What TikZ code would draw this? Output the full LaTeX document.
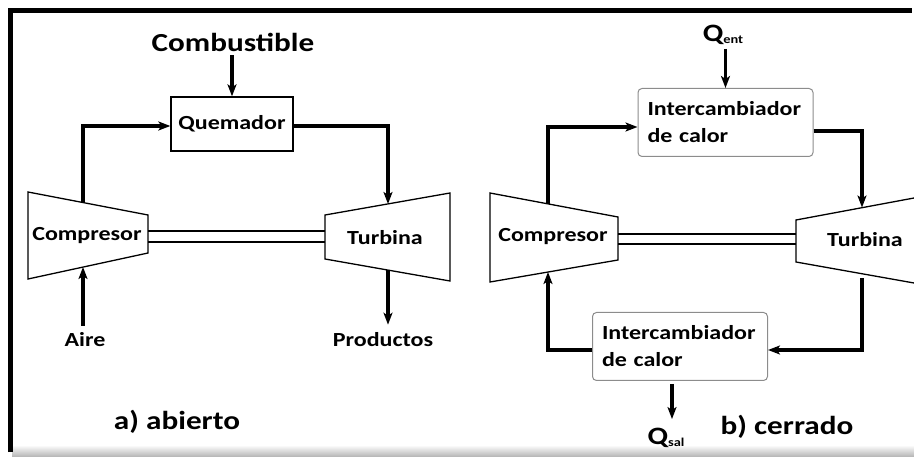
\documentclass[tikz,border=0pt]{standalone}
\usepackage{fontspec}
\setmainfont{Carlito}[FakeStretch=1.2]
\usepackage{tikz}
\usetikzlibrary{arrows.meta,calc}
\tikzset{
  lbl/.style={font=\bfseries\fontsize{20}{24}\selectfont,inner sep=0pt},
  biglbl/.style={font=\bfseries\fontsize{26}{30}\selectfont,inner sep=0pt},
  qlbl/.style={font=\bfseries,inner sep=0pt},
  boxnode/.style={rectangle,draw=black,line width=1.3pt,minimum width=122pt,
                  minimum height=54pt,inner sep=0pt,
                  font=\bfseries\fontsize{20}{24}\selectfont},
  hxnode/.style={rectangle,rounded corners=4pt,draw=black!45,line width=1pt,
                 minimum width=175pt,minimum height=68pt,inner sep=0pt,
                 align=left,text width=156pt,
                 font=\bfseries\fontsize{20}{27}\selectfont},
  unitline/.style={line width=1.3pt,line join=miter},
  flowarr/.style={-{Stealth[length=12pt,width=9pt,inset=3pt]},line width=3.5pt},
}
\newcommand{\heatlbl}[1]{{\fontsize{25}{28}\selectfont Q}\raisebox{-2pt}{\fontsize{12}{14}\selectfont #1}}

\begin{document}
\begin{tikzpicture}[x=1pt,y=-1pt]
  \useasboundingbox (0,0) rectangle (914,457);

  % frame
  \shade[top color=white,bottom color=black!30] (12,445) rectangle (914,457);
  \draw[line width=5pt] (10.5,452) |- (912,10.5);

  % a) open cycle
  \draw[unitline] (28,192) -- (148,215) -- (148,253) -- (28,279) -- cycle;
  \draw[unitline] (325,215) -- (450,193) -- (450,281) -- (325,259) -- cycle;
  \draw[unitline] (148,231) -- (325,231) (148,242) -- (325,242);
  \node[lbl] (compA) at (87,236) {Compresor};
  \node[lbl] (turbA) at (385,238) {Turbina};
  \node[boxnode] (quem) at (232,124) {Quemador};
  \node[biglbl] (fuel) at (233,42) {Combustible};
  \node[lbl] (air) at (85,340) {Aire};
  \node[lbl] (prod) at (383,340) {Productos};
  \node[biglbl] (capA) at (177,422) {a) abierto};

  \coordinate (cA-top) at (83,202.5);
  \coordinate (cA-bot) at (83,267);
  \coordinate (tA-top) at (388,204);
  \coordinate (tA-bot) at (388,270);

  \draw[flowarr,shorten <=4pt] (fuel.south -| quem.north) -- (quem.north);
  \draw[flowarr] (cA-top) |- ([yshift=-2pt]quem.west);
  \draw[flowarr] ([yshift=-2pt]quem.east) -| (tA-top);
  \draw[flowarr,shorten <=7pt] (air.north -| cA-bot) -- (cA-bot);
  \draw[flowarr,shorten >=8pt] (tA-bot) -- (tA-bot |- prod.north);

  % b) closed cycle
  \draw[unitline] (490,193) -- (618,217) -- (618,260) -- (490,282) -- cycle;
  \draw[unitline] (914,198) -- (796,220) -- (796,262) -- (914,283);
  \draw[unitline] (618,234) -- (796,234) (618,244) -- (796,244);
  \node[lbl] (compB) at (553,237) {Compresor};
  \node[lbl] (turbB) at (865,240) {Turbina};
  \node[hxnode] (hxin) at (725.5,122.5) {Intercambiador\\de calor};
  \node[hxnode] (hxout) at (680,346.5) {Intercambiador\\de calor};
  \node[qlbl] (qent) at (723,35) {\heatlbl{ent}};
  \node[qlbl] (qsal) at (666,438) {\heatlbl{sal}};
  \node[biglbl] (capB) at (787,427) {b) cerrado};

  \coordinate (cB-top) at (548,204);
  \coordinate (cB-bot) at (548,272);
  \coordinate (tB-top) at (862,207.5);
  \coordinate (tB-bot) at (862,278);
  \coordinate (qsal-x) at (672,0);

  \draw[flowarr,shorten <=4pt] (qent.south -| hxin.north) -- (hxin.north);
  \draw[flowarr] (cB-top) |- ([yshift=-4.5pt]hxin.west);
  \draw[flowarr] ([yshift=-8.5pt]hxin.east) -| (tB-top);
  \draw[flowarr] (tB-bot) |- ([yshift=-3.5pt]hxout.east);
  \draw[flowarr] ([yshift=-3.5pt]hxout.west) -| (cB-bot);
  \draw[flowarr,shorten <=3pt,shorten >=9pt] (hxout.south -| qsal-x) -- (qsal.north -| qsal-x);

\end{tikzpicture}
\end{document}
